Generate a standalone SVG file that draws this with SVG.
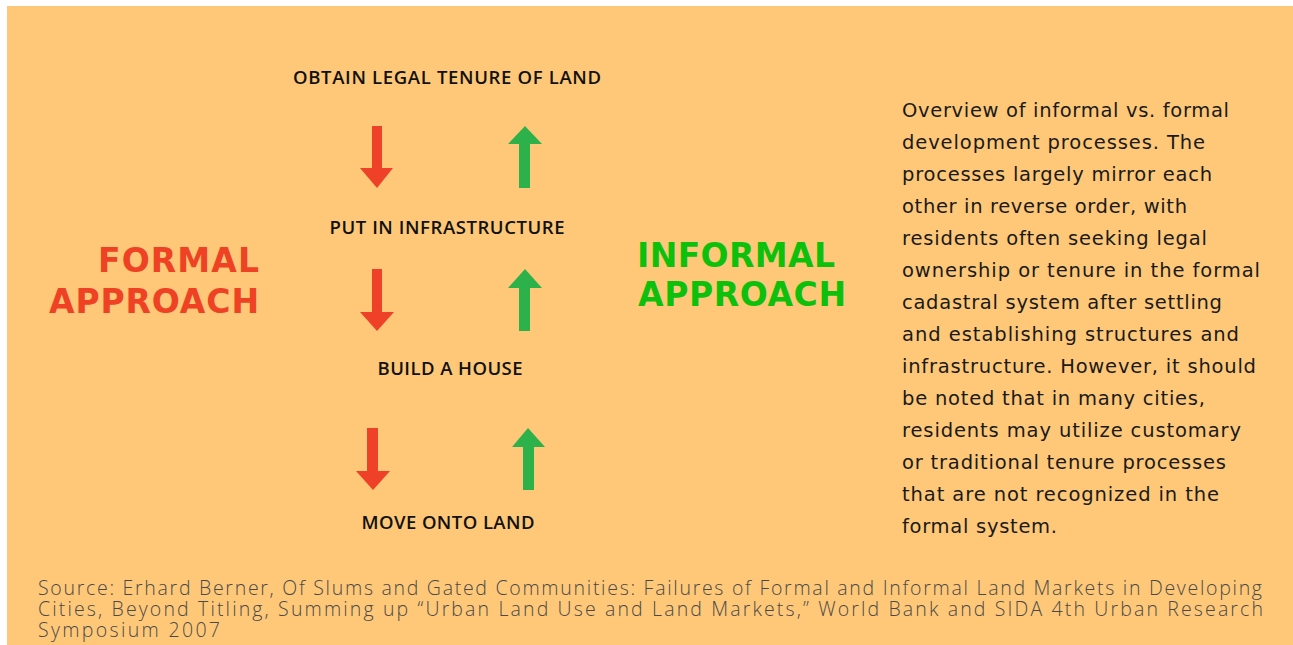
<svg xmlns="http://www.w3.org/2000/svg" width="1293" height="645" viewBox="0 0 1293 645">
<defs>
<style>
.step{font-family:"Open Sans","Liberation Sans",sans-serif;font-weight:600;font-size:18.5px;fill:#111;text-anchor:middle}
.big{font-family:"DejaVu Sans","Liberation Sans",sans-serif;font-weight:700;font-size:33px}
.formal{fill:#EF4123;text-anchor:end}
.informal{fill:#0CC00C}
.para{font-family:"DejaVu Sans","Liberation Sans",sans-serif;font-size:19.5px;fill:#1a1a1a}
.src{font-family:"Open Sans","Liberation Sans",sans-serif;font-weight:300;font-size:19.5px;fill:#4a4a4a}
.down{fill:#EF4127}
.up{fill:#2DB24B}
</style>
</defs>
<rect x="7" y="6" width="1286" height="639" fill="#FEC878"/>

<g id="formal-label">
<text class="big formal" x="259" y="272" textLength="161">FORMAL</text>
<text class="big formal" x="259" y="313" textLength="210">APPROACH</text>
</g>
<g id="informal-label">
<text class="big informal" x="637" y="267" textLength="198">INFORMAL</text>
<text class="big informal" x="638" y="306" textLength="208">APPROACH</text>
</g>

<g id="step-obtain"><text class="step" x="447" y="84" textLength="308">OBTAIN LEGAL TENURE OF LAND</text></g>
<g id="step-infra"><text class="step" x="447" y="234" textLength="235">PUT IN INFRASTRUCTURE</text></g>
<g id="step-house"><text class="step" x="450" y="375" textLength="145">BUILD A HOUSE</text></g>
<g id="step-move"><text class="step" x="448" y="529" textLength="173">MOVE ONTO LAND</text></g>

<g id="connectors">
<polygon class="down" points="372,126 382,126 382,168 393,168 377,188 360,168 372,168"/>
<polygon class="up" points="525,126 542,144 530,144 530,188 519,188 519,144 508,144"/>
<polygon class="down" points="372,269 382,269 382,312 394,312 377,331 360,312 372,312"/>
<polygon class="up" points="525,269 542,288 530,288 530,331 519,331 519,288 508,288"/>
<polygon class="down" points="367,428 378,428 378,471 390,471 373,490 356,471 367,471"/>
<polygon class="up" points="528,428 545,447 534,447 534,490 523,490 523,447 512,447"/>
</g>

<g id="description">
<text class="para" x="902" y="117" textLength="327">Overview of informal vs. formal</text>
<text class="para" x="902" y="149" textLength="303">development processes. The</text>
<text class="para" x="902" y="181" textLength="310">processes largely mirror each</text>
<text class="para" x="902" y="213" textLength="285">other in reverse order, with</text>
<text class="para" x="902" y="245" textLength="305">residents often seeking legal</text>
<text class="para" x="902" y="277" textLength="358">ownership or tenure in the formal</text>
<text class="para" x="902" y="309" textLength="320">cadastral system after settling</text>
<text class="para" x="902" y="341" textLength="337">and establishing structures and</text>
<text class="para" x="902" y="373" textLength="354">infrastructure. However, it should</text>
<text class="para" x="902" y="405" textLength="303">be noted that in many cities,</text>
<text class="para" x="902" y="437" textLength="339">residents may utilize customary</text>
<text class="para" x="902" y="469" textLength="324">or traditional tenure processes</text>
<text class="para" x="902" y="501" textLength="317">that are not recognized in the</text>
<text class="para" x="902" y="533" textLength="155">formal system.</text>
</g>

<g id="source">
<text class="src" x="38" y="595" textLength="1224">Source: Erhard Berner, Of Slums and Gated Communities: Failures of Formal and Informal Land Markets in Developing</text>
<text class="src" x="38" y="616" textLength="1225">Cities, Beyond Titling, Summing up “Urban Land Use and Land Markets,” World Bank and SIDA 4th Urban Research</text>
<text class="src" x="38" y="637" textLength="182">Symposium 2007</text>
</g>
</svg>
